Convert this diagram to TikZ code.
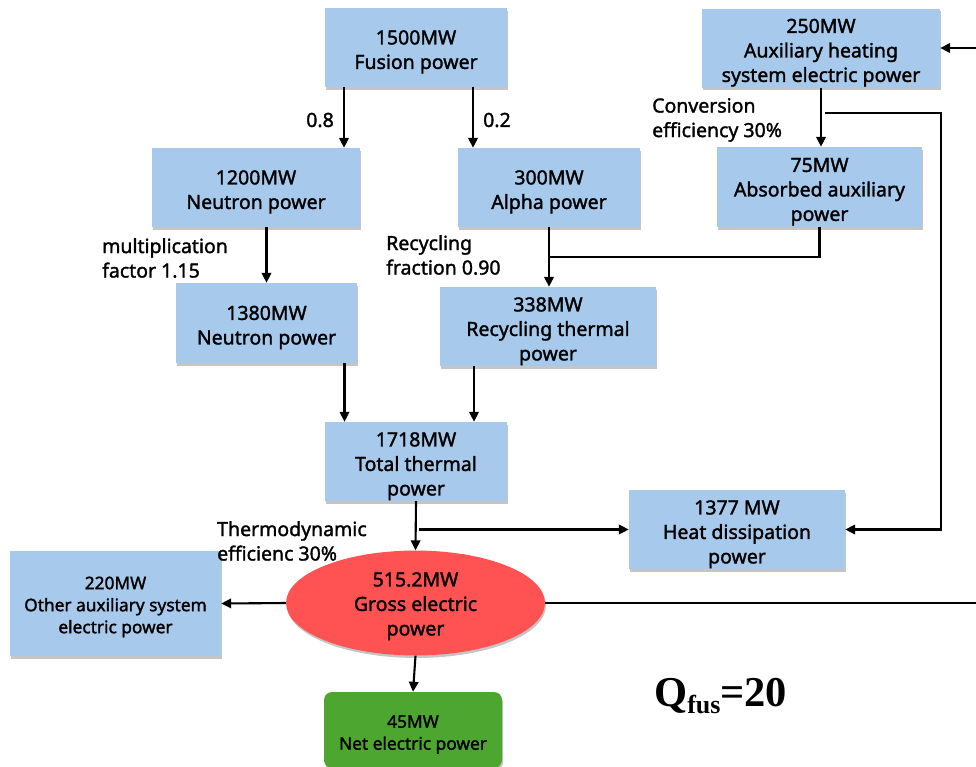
\documentclass[tikz,border=0pt]{standalone}
\usepackage{fontspec}
\setmainfont{Noto Sans}
\newfontfamily\medfont{Noto Sans}[FakeBold=1.6]
\newfontfamily\qfont{Liberation Serif}
\usetikzlibrary{arrows.meta,shapes.geometric,shadows}
\definecolor{boxblue}{RGB}{167,201,235}
\definecolor{ellred}{RGB}{255,83,83}
\definecolor{netgreen}{RGB}{77,166,47}
\newcommand{\mfont}{\medfont\fontsize{19.5}{24.5}\selectfont}
\newcommand{\sfontb}{\medfont\fontsize{17.3}{22}\selectfont}
\newcommand{\st}[1]{\rule{0pt}{#1pt}}
\begin{document}
\begin{tikzpicture}[x=1pt,y=-1pt,
  shad/.style={drop shadow={shadow xshift=1pt,shadow yshift=-2.5pt,fill=black!45,opacity=0.5}},
  box/.style={rectangle,fill=boxblue,draw=none,align=center,inner sep=0pt,font=\mfont,shad},
  smallbox/.style={rectangle,fill=boxblue,draw=none,align=center,inner sep=0pt,font=\sfontb,shad},
  ell/.style={ellipse,fill=ellred,draw=none,align=center,inner sep=0pt,font=\mfont,shad},
  netbox/.style={rectangle,rounded corners=8pt,fill=netgreen,draw=none,align=center,inner sep=0pt,
    font=\sfontb,shad},
  lab/.style={align=left,inner sep=0pt,anchor=north west,font=\mfont},
  num/.style={inner sep=0pt,font=\mfont},
  conn/.style={line width=2.1pt},
  arr/.style={line width=2.1pt,-{Triangle[length=10pt,width=9.5pt]}}
]
\useasboundingbox (0,0) rectangle (976,766);

% nodes
\node[box,minimum width=182pt,minimum height=79pt] (fus) at (416,47.5) {\st{23}1500MW\\Fusion power};
\node[box,minimum width=238pt,minimum height=79pt] (aux) at (821,48) {\st{23.5}250MW\\Auxiliary heating\\system electric power};
\node[box,minimum width=208pt,minimum height=79pt] (n1) at (256,187.5) {\st{23}1200MW\\Neutron power};
\node[box,minimum width=182pt,minimum height=79pt] (al) at (549,187.5) {\st{23}300MW\\Alpha power};
\node[box,minimum width=205pt,minimum height=80pt] (ab) at (819.5,187) {\st{23.5}75MW\\Absorbed auxiliary\\power};
\node[box,minimum width=181pt,minimum height=80pt] (n2) at (266.5,323) {\st{23}1380MW\\Neutron power};
\node[box,minimum width=216pt,minimum height=79pt] (rc) at (548,326.5) {\st{23.5}338MW\\Recycling thermal\\power};
\node[box,minimum width=182pt,minimum height=79pt] (tt) at (416,461.5) {\st{23.5}1718MW\\Total thermal\\power};
\node[box,minimum width=216pt,minimum height=79pt] (hd) at (737,529.5) {\st{23.5}1377 MW\\Heat dissipation\\power};
\node[smallbox,minimum width=211pt,minimum height=105pt] (oa) at (115.5,603.5) {\st{19.5}220MW\\Other auxiliary system\\electric power};
\node[ell,minimum width=259pt,minimum height=80pt] (ge) at (415.5,603) {\st{20.5}515.2MW\\Gross electric\\power};
\node[netbox,minimum width=178pt,minimum height=76pt] (ne) at (413,730) {\st{21.5}45MW\\Net electric power};

% labels
\node[num,anchor=east] (l08) at (334,120) {0.8};
\node[num,anchor=west] (l02) at (483,120) {0.2};
\node[lab] (lconv) at (652,98) {Conversion\\efficiency 30\%};
\node[lab] (lmult) at (102,238) {multiplication\\factor 1.15};
\node[lab] (lrec) at (386,235) {Recycling\\fraction 0.90};
\node[lab] (lthe) at (217,521) {Thermodynamic\\efficienc 30\%};
\node[inner sep=0pt,anchor=base west] (q) at (654,706)
  {\qfont\bfseries\fontsize{42.5}{42.5}\selectfont Q\raisebox{-7pt}{\fontsize{26}{26}\selectfont fus}=20};

% junction coordinates
\coordinate (jab) at (549,257);
\coordinate (jaux) at (825,113);
\coordinate (jaux2) at (941,113);
\coordinate (jtt) at (419,529.5);
\coordinate (edgeR) at (976,603);
\coordinate (edgeT) at (976,48);

% connectors
\draw[arr] ([xshift=-72pt]fus.south) -- ([xshift=-72pt]fus.south |- n1.north);
\draw[arr] ([xshift=57pt]fus.south) -- ([xshift=57pt]fus.south |- al.north);
\draw[arr] (n2.north |- n1.south) -- (n2.north);
\draw[arr] (al.south) -- (al.south |- rc.north);
\draw[arr] (aux.south) -- (aux.south |- ab.north);
\draw[conn] (ab.south) |- (jab);
\draw[arr] (jaux) -- (jaux2) |- (hd.east);
\draw[arr] ([xshift=-71.5pt]tt.north |- n2.south) -- ([xshift=-71.5pt]tt.north);
\draw[arr] ([xshift=58pt]tt.north |- rc.south) -- ([xshift=58pt]tt.north);
\draw[arr] (tt.south) -- (ge.north);
\draw[arr] (jtt) -- (hd.west);
\draw[arr] (ge.west) -- (oa.east);
\draw[arr] (ge.south) -- (ne.north);
\draw[conn] (ge.east) -- (edgeR);
\draw[arr] (edgeT) -- (aux.east);
\end{tikzpicture}
\end{document}
